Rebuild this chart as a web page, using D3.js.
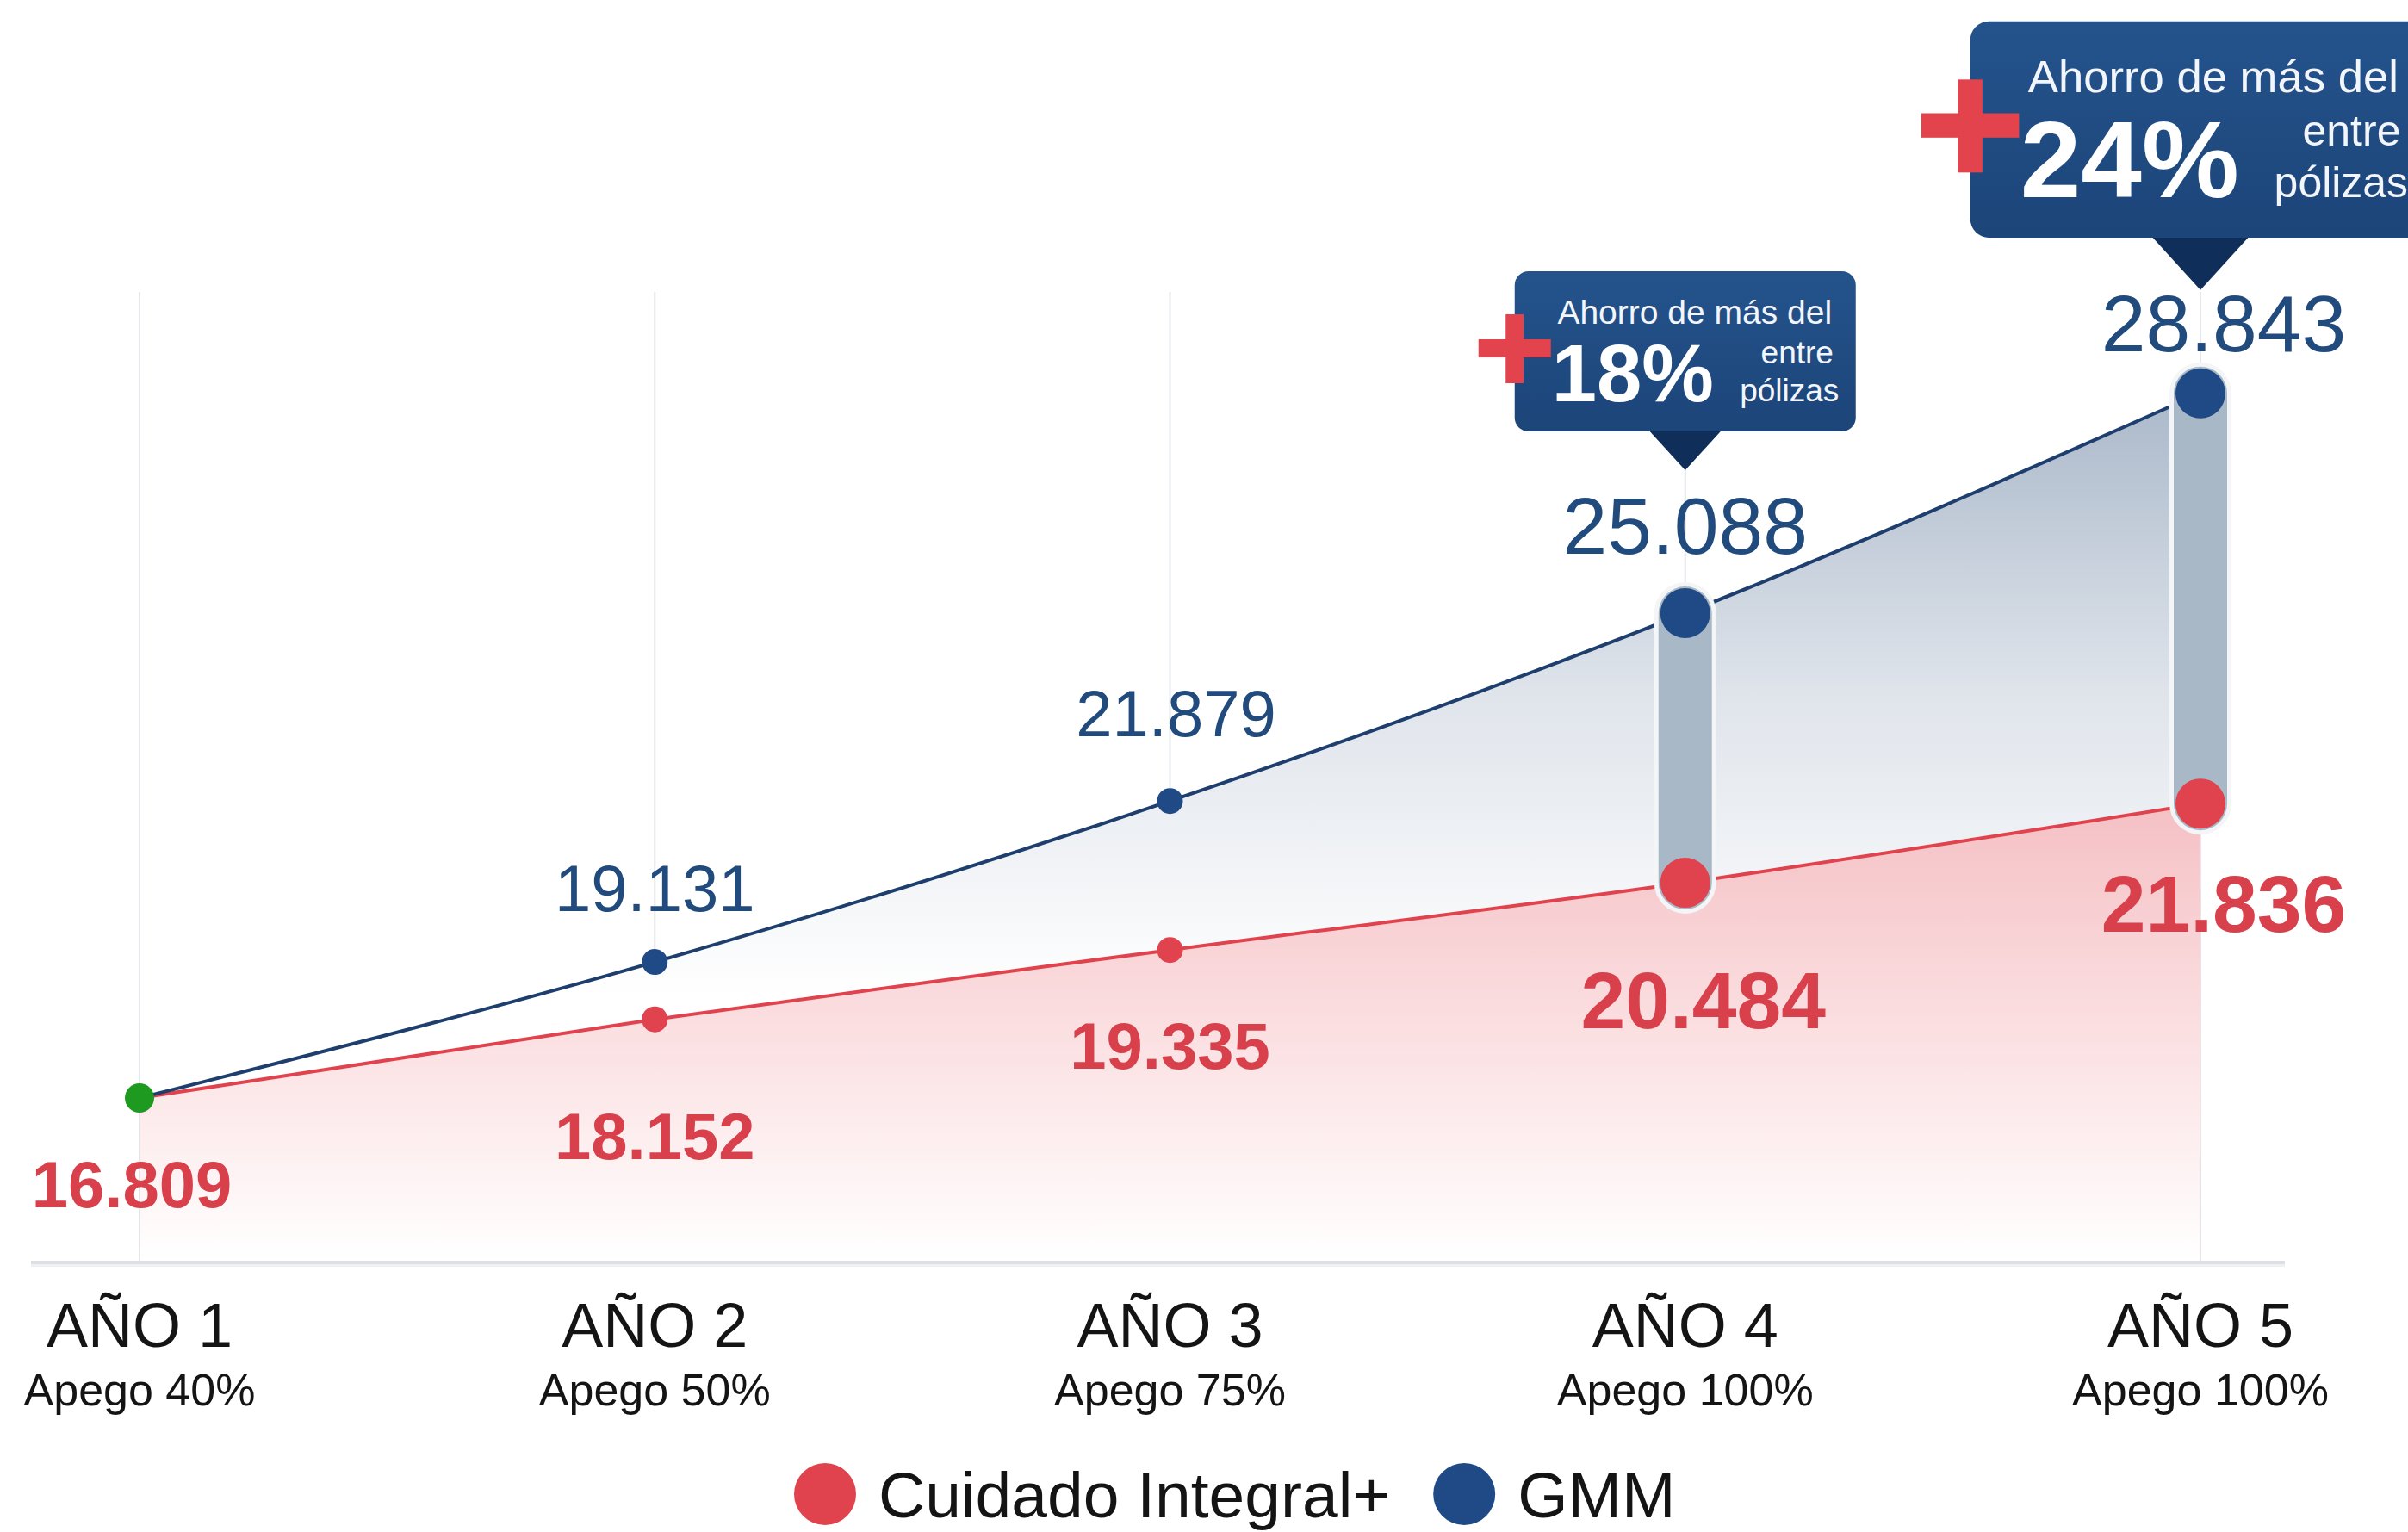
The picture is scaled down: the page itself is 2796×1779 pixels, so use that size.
<!DOCTYPE html>
<html>
<head>
<meta charset="utf-8">
<script src="https://cdn.jsdelivr.net/npm/d3@7"></script>
<style>
  body { margin: 0; background: #fff; }
  text { font-family: "Liberation Sans", Arial, Helvetica, sans-serif; }
</style>
</head>
<body>
<div id="chart"></div>
<script>
// data
var years = ["AÑO 1", "AÑO 2", "AÑO 3", "AÑO 4", "AÑO 5"];
var apego = ["Apego 40%", "Apego 50%", "Apego 75%", "Apego 100%", "Apego 100%"];
var cuidado = [16.809, 18.152, 19.335, 20.484, 21.836];
var gmm = [16.809, 19.131, 21.879, 25.088, 28.843];
var savings = [{ year: "AÑO 4", pct: "18%" }, { year: "AÑO 5", pct: "24%" }];
var seriesNames = ["Cuidado Integral+", "GMM"];

var W = 2796, H = 1779;
var red = "#e0434d", redText = "#d8404b", blue = "#1f4a86", blueLine = "#1e3f6e", blueText = "#214a7d";

var svg = d3.select("#chart").append("svg")
    .attr("width", W)
    .attr("height", H);

var x = d3.scalePoint().domain(years).range([162, 2555]);
var y = d3.scaleLinear().domain([14, 29]).range([1466, 446]);
var base = y.range()[0];

var idx = d3.range(years.length);
var bigIdx = savings.map(function (s) { return years.indexOf(s.year); });
function isBig(i) { return bigIdx.indexOf(i) >= 0; }

// gradients
var defs = svg.append("defs");
var gb = defs.append("linearGradient").attr("id", "gradBlue")
    .attr("gradientUnits", "userSpaceOnUse")
    .attr("x1", 0).attr("x2", 0).attr("y1", y(29)).attr("y2", y(18.5));
gb.append("stop").attr("offset", 0).attr("stop-color", "#a9b7c9");
gb.append("stop").attr("offset", 0.5).attr("stop-color", "#dfe4eb");
gb.append("stop").attr("offset", 1).attr("stop-color", "#ffffff");

var gr = defs.append("linearGradient").attr("id", "gradRed")
    .attr("gradientUnits", "userSpaceOnUse")
    .attr("x1", 0).attr("x2", 0).attr("y1", y(22)).attr("y2", base);
gr.append("stop").attr("offset", 0).attr("stop-color", "#f4bfc3");
gr.append("stop").attr("offset", 0.5).attr("stop-color", "#fbdfe1");
gr.append("stop").attr("offset", 1).attr("stop-color", "#ffffff");

var gbox = defs.append("linearGradient").attr("id", "gradBox")
    .attr("x1", 0).attr("x2", 0).attr("y1", 0).attr("y2", 1);
gbox.append("stop").attr("offset", 0).attr("stop-color", "#24538c");
gbox.append("stop").attr("offset", 1).attr("stop-color", "#1c4579");

// vertical grid lines
svg.append("g").selectAll("line")
    .data(years).enter().append("line")
    .attr("x1", function (d) { return x(d); })
    .attr("x2", function (d) { return x(d); })
    .attr("y1", 339).attr("y2", base)
    .attr("stroke", "#e4e6ea")
    .attr("stroke-width", 2);

var curve = d3.curveMonotoneX;

// areas
var areaRed = d3.area()
    .x(function (i) { return x(years[i]); })
    .y0(base)
    .y1(function (i) { return y(cuidado[i]); })
    .curve(curve);
var areaBlue = d3.area()
    .x(function (i) { return x(years[i]); })
    .y0(function (i) { return y(cuidado[i]); })
    .y1(function (i) { return y(gmm[i]); })
    .curve(curve);

svg.append("path").attr("d", areaRed(idx)).attr("fill", "url(#gradRed)");
svg.append("path").attr("d", areaBlue(idx)).attr("fill", "url(#gradBlue)");

// baseline
svg.append("line")
    .attr("x1", 36).attr("x2", 2653)
    .attr("y1", base + 3).attr("y2", base + 3)
    .attr("stroke", "#eef0f2").attr("stroke-width", 4);
svg.append("line")
    .attr("x1", 36).attr("x2", 2653)
    .attr("y1", base).attr("y2", base)
    .attr("stroke", "#dcdfe3").attr("stroke-width", 4);

// lines
var lineRed = d3.line()
    .x(function (i) { return x(years[i]); })
    .y(function (i) { return y(cuidado[i]); })
    .curve(curve);
var lineBlue = d3.line()
    .x(function (i) { return x(years[i]); })
    .y(function (i) { return y(gmm[i]); })
    .curve(curve);

svg.append("path").attr("d", lineRed(idx)).attr("fill", "none")
    .attr("stroke", red).attr("stroke-width", 4);
svg.append("path").attr("d", lineBlue(idx)).attr("fill", "none")
    .attr("stroke", blueLine).attr("stroke-width", 4);

// gray connectors on the savings years
var conn = svg.append("g").selectAll("g")
    .data(bigIdx).enter().append("g");
conn.append("line")
    .attr("x1", function (i) { return x(years[i]); })
    .attr("x2", function (i) { return x(years[i]); })
    .attr("y1", function (i) { return y(gmm[i]); })
    .attr("y2", function (i) { return y(cuidado[i]); })
    .attr("stroke", "#f3f5f7")
    .attr("stroke-width", 72)
    .attr("stroke-linecap", "round");
conn.append("line")
    .attr("x1", function (i) { return x(years[i]); })
    .attr("x2", function (i) { return x(years[i]); })
    .attr("y1", function (i) { return y(gmm[i]); })
    .attr("y2", function (i) { return y(cuidado[i]); })
    .attr("stroke", "#a9b8c6")
    .attr("stroke-width", 62)
    .attr("stroke-linecap", "round");

// dots
svg.append("g").selectAll("circle")
    .data(idx.slice(1)).enter().append("circle")
    .attr("cx", function (i) { return x(years[i]); })
    .attr("cy", function (i) { return y(cuidado[i]); })
    .attr("r", function (i) { return isBig(i) ? 29 : 15; })
    .attr("fill", red);
svg.append("g").selectAll("circle")
    .data(idx.slice(1)).enter().append("circle")
    .attr("cx", function (i) { return x(years[i]); })
    .attr("cy", function (i) { return y(gmm[i]); })
    .attr("r", function (i) { return isBig(i) ? 29 : 15; })
    .attr("fill", blue);
// shared starting point
svg.append("circle")
    .attr("cx", x(years[0]))
    .attr("cy", y(cuidado[0]))
    .attr("r", 17)
    .attr("fill", "#1d9a1f");

var fmt = d3.format(".3f");

// value labels (center offsets from points)
var redDy = [100, 135, 110, 135, 115];
var redDx = [-9, 0, 0, 21, 27];
var blueDy = [0, -86, -103, -102, -82];
var blueDx = [0, 0, 7, 0, 27];

svg.append("g").selectAll("text")
    .data(idx).enter().append("text")
    .attr("x", function (i) { return x(years[i]) + redDx[i]; })
    .attr("y", function (i) {
        var fs = isBig(i) ? 93 : 76;
        return y(cuidado[i]) + redDy[i] + fs * 0.36;
    })
    .attr("text-anchor", "middle")
    .attr("font-weight", "bold")
    .attr("font-size", function (i) { return isBig(i) ? 93 : 76; })
    .attr("fill", redText)
    .text(function (i) { return fmt(cuidado[i]); });

svg.append("g").selectAll("text")
    .data(idx.slice(1)).enter().append("text")
    .attr("x", function (i) { return x(years[i]) + blueDx[i]; })
    .attr("y", function (i) {
        var fs = isBig(i) ? 93 : 76;
        return y(gmm[i]) + blueDy[i] + fs * 0.36;
    })
    .attr("text-anchor", "middle")
    .attr("font-size", function (i) { return isBig(i) ? 93 : 76; })
    .attr("fill", blueText)
    .text(function (i) { return fmt(gmm[i]); });

// x labels
svg.append("g").selectAll("text")
    .data(years).enter().append("text")
    .attr("x", function (d) { return x(d); })
    .attr("y", 1564)
    .attr("text-anchor", "middle")
    .attr("font-size", 72)
    .attr("fill", "#141414")
    .text(function (d) { return d; });
svg.append("g").selectAll("text")
    .data(apego).enter().append("text")
    .attr("x", function (d, i) { return x(years[i]); })
    .attr("y", 1632)
    .attr("text-anchor", "middle")
    .attr("font-size", 52)
    .attr("fill", "#141414")
    .text(function (d) { return d; });

// savings callouts
var calloutLayout = [{ k: 1, tipDy: -166 }, { k: 1.35, tipDy: -120 }];
savings.forEach(function (s, n) {
    var i = years.indexOf(s.year);
    var L = calloutLayout[n];
    var g = svg.append("g")
        .attr("transform", "translate(" + x(s.year) + "," + (y(gmm[i]) + L.tipDy) + ") scale(" + L.k + ")");
    g.append("path").attr("d", "M-42,-46 L42,-46 L0,0 Z").attr("fill", "#0f2e5a");
    g.append("rect")
        .attr("x", -198).attr("y", -231)
        .attr("width", 396).attr("height", 186)
        .attr("rx", 16)
        .attr("fill", "url(#gradBox)");
    // red plus
    g.append("rect").attr("x", -240).attr("y", -152).attr("width", 84).attr("height", 21).attr("fill", "#e2434c");
    g.append("rect").attr("x", -208.5).attr("y", -181).attr("width", 21).attr("height", 80).attr("fill", "#e2434c");
    g.append("text").attr("x", 11).attr("y", -170)
        .attr("text-anchor", "middle").attr("font-size", 39).attr("fill", "#f2f5fa")
        .text("Ahorro de más del");
    g.append("text").attr("x", -155).attr("y", -80)
        .attr("font-size", 94).attr("font-weight", "bold").attr("fill", "#ffffff")
        .text(s.pct);
    g.append("text").attr("x", 130).attr("y", -124)
        .attr("text-anchor", "middle").attr("font-size", 37).attr("fill", "#f2f5fa")
        .text("entre");
    g.append("text").attr("x", 121).attr("y", -80)
        .attr("text-anchor", "middle").attr("font-size", 37).attr("fill", "#f2f5fa")
        .text("pólizas");
});

// legend
var legend = svg.append("g");
var lx = 922, ly = 1735;
seriesNames.forEach(function (name, n) {
    legend.append("circle")
        .attr("cx", lx + 36).attr("cy", ly).attr("r", 36)
        .attr("fill", n === 0 ? red : blue);
    var t = legend.append("text")
        .attr("x", lx + 98).attr("y", ly + 27)
        .attr("font-size", 75)
        .attr("fill", "#141414")
        .text(name);
    lx = lx + 98 + t.node().getComputedTextLength() + 50;
});
</script>
</body>
</html>
